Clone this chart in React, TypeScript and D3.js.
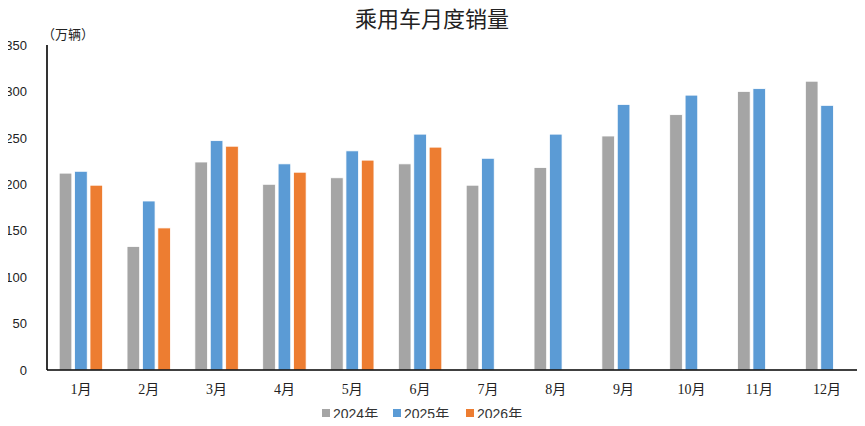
import React from 'react';
import * as d3 from 'd3';

const months = ['1月', '2月', '3月', '4月', '5月', '6月', '7月', '8月', '9月', '10月', '11月', '12月'];
const seriesNames = ['2024年', '2025年', '2026年'];
const sales2024 = [212, 133, 224, 200, 207, 222, 199, 218, 252, 275, 300, 311];
const sales2025 = [214, 182, 247, 222, 236, 254, 228, 254, 286, 296, 303, 285];
const sales2026: (number | null)[] = [199, 153, 241, 213, 226, 240, null, null, null, null, null, null];
const yTicks = [0, 50, 100, 150, 200, 250, 300, 350];
const colors = ['#A5A5A5', '#5B9BD5', '#ED7D31'];

const W = 865;
const H = 426;
const margin = { top: 45, right: 4, bottom: 56, left: 47 };

const App: React.FC = () => {
  const series = [sales2024, sales2025, sales2026];

  const x = d3
    .scaleBand<string>()
    .domain(months)
    .range([margin.left, W - margin.right])
    .paddingInner(0.36)
    .paddingOuter(0.18);

  const xInner = d3
    .scaleBand<string>()
    .domain(seriesNames)
    .range([0, x.bandwidth()])
    .paddingInner(0.18);

  const y = d3
    .scaleLinear()
    .domain([0, 350])
    .range([H - margin.bottom, margin.top]);

  const sansFont = '"Liberation Sans", Arial, "Noto Sans CJK SC", sans-serif';
  const serifFont = '"Liberation Serif", "Times New Roman", "Noto Sans CJK SC", serif';

  // legend layout
  const legendX = [322, 393, 466];

  return (
    <svg width={W} height={H} style={{ display: 'block', margin: '-8px' }}>
      <rect width={W} height={H} fill="#fff" />
      <text
        x={432}
        y={27}
        textAnchor="middle"
        fontSize={22}
        fontFamily='"Noto Sans CJK SC", sans-serif'
        fill="#222"
      >
        乘用车月度销量
      </text>
      <text x={42} y={39} fontSize={13} fontFamily='"Noto Sans CJK SC", sans-serif' fill="#222">
        （万辆）
      </text>

      {yTicks.map((t) => (
        <text
          key={t}
          x={27}
          y={y(t)}
          dy="0.36em"
          textAnchor="end"
          fontSize={13}
          fontFamily={sansFont}
          fill="#222"
        >
          {t}
        </text>
      ))}

      {months.map((m, i) => (
        <g key={m} transform={`translate(${x(m)},0)`}>
          {series.map((s, j) => {
            const v = s[i];
            if (v == null) return null;
            return (
              <rect
                key={j}
                x={xInner(seriesNames[j])}
                y={y(v)}
                width={xInner.bandwidth()}
                height={y(0) - y(v)}
                fill={colors[j]}
                stroke="#fff"
                strokeWidth={0.8}
              />
            );
          })}
          <text
            x={x.bandwidth() / 2}
            y={394}
            textAnchor="middle"
            fontSize={14}
            fontFamily={serifFont}
            fill="#222"
          >
            {m}
          </text>
        </g>
      ))}

      <line x1={margin.left} x2={margin.left} y1={y(350)} y2={y(0)} stroke="#000" strokeWidth={1.6} />
      <line x1={margin.left} x2={W - margin.right} y1={y(0)} y2={y(0)} stroke="#000" strokeWidth={1.6} />

      {seriesNames.map((n, j) => (
        <g key={n} transform={`translate(${legendX[j]},0)`}>
          <rect x={0} y={409} width={8} height={8} fill={colors[j]} />
          <text x={11} y={419} fontSize={14} fontFamily={sansFont} fill="#333">
            {n}
          </text>
        </g>
      ))}
    </svg>
  );
};

export default App;
